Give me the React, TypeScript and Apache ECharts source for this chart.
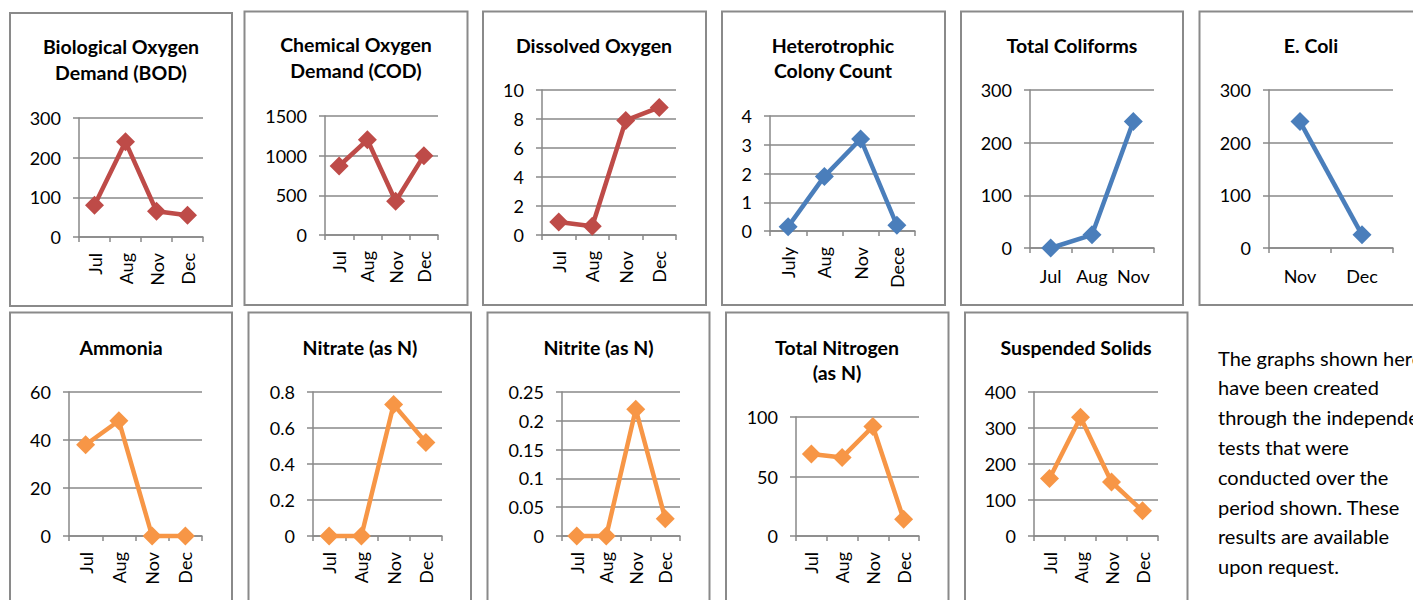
import React, { useEffect, useRef } from "react";
import * as echarts from "echarts";

// ---- data ----
const monthsStd = ["Jul", "Aug", "Nov", "Dec"];
const monthsHCC = ["July", "Aug", "Nov", "Dece"];
const monthsTC = ["Jul", "Aug", "Nov"];
const monthsEColi = ["Nov", "Dec"];

const bodValues = [80, 240, 65, 55];
const codValues = [870, 1200, 425, 1000];
const doValues = [0.9, 0.6, 7.9, 8.8];
const hccValues = [0.15, 1.9, 3.2, 0.2];
const tcValues = [0, 25, 240];
const ecoliValues = [240, 25];
const ammoniaValues = [38, 48, 0, 0];
const nitrateValues = [0, 0, 0.73, 0.52];
const nitriteValues = [0, 0, 0.22, 0.03];
const tnValues = [69, 66, 92, 14];
const ssValues = [160, 330, 150, 70];

const titles = [
  "Biological Oxygen\nDemand (BOD)",
  "Chemical Oxygen\nDemand (COD)",
  "Dissolved Oxygen",
  "Heterotrophic\nColony Count",
  "Total Coliforms",
  "E. Coli",
  "Ammonia",
  "Nitrate (as N)",
  "Nitrite (as N)",
  "Total Nitrogen\n(as N)",
  "Suspended Solids",
];
const yMax = [300, 1500, 10, 4, 300, 300, 60, 0.8, 0.25, 100, 400];
const yStep = [100, 500, 2, 1, 100, 100, 20, 0.2, 0.05, 50, 100];

const noteLines = [
  "The graphs shown here",
  "have been created",
  "through the independent",
  "tests that were",
  "conducted over the",
  "period shown. These",
  "results are available",
  "upon request.",
];

// ---- layout / style ----
const RED = "#BE4B48";
const BLUE = "#4A7EBB";
const ORANGE = "#F79646";
const GRID_GRAY = "#888888";
const FONT = "Lato, 'Open Sans', sans-serif";

const panels = [
  { cats: monthsStd, vals: bodValues, color: RED, box: [10, 13, 222, 293], grid: [79, 118, 124, 119], titleX: 121, titleY: 59.5, rot: true },
  { cats: monthsStd, vals: codValues, color: RED, box: [244.5, 11.5, 223, 293.5], grid: [325, 116, 113, 119], titleX: 356, titleY: 57.5, rot: true },
  { cats: monthsStd, vals: doValues, color: RED, box: [483, 11.5, 223, 293.5], grid: [542, 90, 134, 145], titleX: 594, titleY: 45, rot: true },
  { cats: monthsHCC, vals: hccValues, color: BLUE, box: [722, 11.5, 223, 293.5], grid: [770, 116, 145, 115], titleX: 833, titleY: 58, rot: true },
  { cats: monthsTC, vals: tcValues, color: BLUE, box: [961, 11.5, 222, 293.5], grid: [1030, 90, 124, 158], titleX: 1072, titleY: 45, rot: false },
  { cats: monthsEColi, vals: ecoliValues, color: BLUE, box: [1199.5, 11.5, 223, 293.5], grid: [1269, 90, 124, 158], titleX: 1311, titleY: 45, rot: false },
  { cats: monthsStd, vals: ammoniaValues, color: ORANGE, box: [10, 312.5, 222, 300], grid: [69, 392, 133, 144], titleX: 121, titleY: 347, rot: true },
  { cats: monthsStd, vals: nitrateValues, color: ORANGE, box: [248.5, 312.5, 222.5, 300], grid: [313, 392, 129, 144], titleX: 360, titleY: 347, rot: true },
  { cats: monthsStd, vals: nitriteValues, color: ORANGE, box: [487.5, 312.5, 222, 300], grid: [562, 392, 118, 144], titleX: 598.5, titleY: 347, rot: true },
  { cats: monthsStd, vals: tnValues, color: ORANGE, box: [726, 312.5, 222.5, 300], grid: [796, 417, 123, 119], titleX: 837, titleY: 360, rot: true },
  { cats: monthsStd, vals: ssValues, color: ORANGE, box: [965, 312.5, 222.5, 300], grid: [1034, 392, 124, 144], titleX: 1076, titleY: 347, rot: true },
];

function buildOption() {
  const grid: any[] = [];
  const xAxis: any[] = [];
  const yAxis: any[] = [];
  const series: any[] = [];
  const graphic: any[] = [];

  panels.forEach((p, i) => {
    const [gl, gt, gw, gh] = p.grid;
    grid.push({ left: gl, top: gt, width: gw, height: gh, containLabel: false, outerBoundsMode: "none" });
    xAxis.push({
      type: "category",
      gridIndex: i,
      data: p.cats,
      boundaryGap: true,
      axisLine: { show: true, lineStyle: { color: GRID_GRAY, width: 1.5 } },
      axisTick: { show: true, length: 5, lineStyle: { color: GRID_GRAY, width: 1.5 } },
      axisLabel: {
        rotate: p.rot ? 90 : 0,
        margin: p.rot ? 16 : 19,
        color: "#000",
        fontSize: 18,
        fontFamily: FONT,
        interval: 0,
      },
      splitLine: { show: false },
    });
    yAxis.push({
      type: "value",
      gridIndex: i,
      min: 0,
      max: yMax[i],
      interval: yStep[i],
      axisLine: { show: true, lineStyle: { color: GRID_GRAY, width: 1.5 } },
      axisTick: { show: true, length: 6, lineStyle: { color: GRID_GRAY, width: 1.5 } },
      axisLabel: {
        margin: 18,
        color: "#000",
        fontSize: 18,
        fontFamily: FONT,
        formatter: (v: number) => String(parseFloat(v.toFixed(4))),
      },
      splitLine: { show: true, lineStyle: { color: GRID_GRAY, width: 1.5 } },
    });
    series.push({
      type: "line",
      xAxisIndex: i,
      yAxisIndex: i,
      data: p.vals,
      symbol: "diamond",
      symbolSize: 19,
      showAllSymbol: true,
      clip: false,
      lineStyle: { color: p.color, width: 4.5 },
      itemStyle: { color: p.color },
      z: 5,
    });
    const [bx, by, bw, bh] = p.box;
    graphic.push({
      type: "rect",
      shape: { x: bx, y: by, width: bw, height: bh },
      style: { fill: "none", stroke: "#8A8A8A", lineWidth: 2 },
      silent: true,
      z: 1,
    });
    graphic.push({
      type: "text",
      x: p.titleX,
      y: p.titleY,
      style: {
        text: titles[i],
        fill: "#000",
        fontFamily: FONT,
        fontWeight: "bold",
        fontSize: 19.5,
        lineHeight: 25.5,
        textAlign: "center",
        textVerticalAlign: "middle",
      },
      silent: true,
      z: 10,
    });
  });

  noteLines.forEach((line, k) => {
    graphic.push({
      type: "text",
      x: 1218,
      y: 357.5 + k * 29.8,
      style: {
        text: line,
        fill: "#000",
        fontFamily: FONT,
        fontSize: 20,
        textAlign: "left",
        textVerticalAlign: "middle",
      },
      silent: true,
      z: 10,
    });
  });

  return {
    animation: false,
    backgroundColor: "#fff",
    grid,
    xAxis,
    yAxis,
    series,
    graphic,
  };
}

export default function App() {
  const ref = useRef<HTMLDivElement>(null);
  useEffect(() => {
    if (!ref.current) return;
    const chart = echarts.init(ref.current, undefined, { renderer: "svg" });
    chart.setOption(buildOption() as any);
    return () => chart.dispose();
  }, []);
  return (
    <div
      ref={ref}
      style={{ position: "absolute", left: 0, top: 0, width: 1413, height: 600, background: "#fff" }}
    />
  );
}
